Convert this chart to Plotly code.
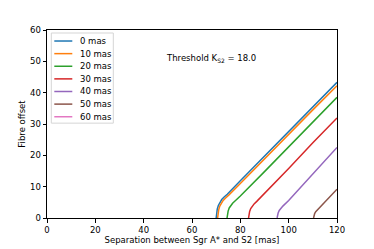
import plotly.graph_objects as go

labels = ["0 mas", "10 mas", "20 mas", "30 mas", "40 mas", "50 mas", "60 mas"]
colors = ["#1f77b4", "#ff7f0e", "#2ca02c", "#d62728", "#9467bd", "#8c564b", "#e377c2"]

x0 = [70.0, 70.15, 70.45, 70.9, 71.5, 72.3, 73.3, 74.6, 80, 90, 100, 110, 120]
y0 = [0.0, 1.4, 2.8, 4.0, 5.0, 5.9, 6.7, 7.6, 11.9, 19.8, 27.6, 35.5, 43.3]
x10 = [70.6, 70.75, 71.05, 71.5, 72.1, 72.9, 73.9, 75.2, 80, 90, 100, 110, 120]
y10 = [0.0, 1.3, 2.6, 3.8, 4.8, 5.6, 6.4, 7.3, 11.0, 18.9, 26.7, 34.5, 42.2]
x20 = [74.5, 74.65, 74.95, 75.4, 76.0, 76.8, 77.9, 80, 90, 100, 110, 120]
y20 = [0.0, 1.1, 2.2, 3.2, 4.0, 4.7, 5.5, 7.0, 14.8, 22.7, 30.6, 38.5]
x30 = [83.4, 83.55, 83.85, 84.3, 84.9, 85.7, 86.8, 90, 100, 110, 120]
y30 = [0.0, 1.1, 2.1, 3.0, 3.8, 4.5, 5.3, 7.8, 15.8, 24.0, 31.9]
x40 = [95.2, 95.35, 95.65, 96.1, 96.7, 97.6, 100, 110, 120]
y40 = [0.0, 0.8, 1.6, 2.4, 3.1, 3.8, 5.6, 14.0, 22.5]
x50 = [110.3, 110.45, 110.75, 111.2, 111.9, 113, 115, 120]
y50 = [0.0, 0.7, 1.4, 2.0, 2.6, 3.4, 5.0, 9.2]
x60 = []
y60 = []

xs = [x0, x10, x20, x30, x40, x50, x60]
ys = [y0, y10, y20, y30, y40, y50, y60]

x_ticks = [0, 20, 40, 60, 80, 100, 120]
y_ticks = [0, 10, 20, 30, 40, 50, 60]

FONT = "DejaVu Sans"

fig = go.Figure()
for lab, c, xx, yy in zip(labels, colors, xs, ys):
    fig.add_trace(go.Scatter(x=xx, y=yy, mode="lines", name=lab,
                             line=dict(color=c, width=1.5),
                             showlegend=False))

axis_common = dict(showline=True, linecolor="black", linewidth=1, mirror=True,
                   ticks="outside", ticklen=3.5, tickwidth=0.8, tickcolor="black",
                   showgrid=False, zeroline=False, automargin=False,
                   tickfont=dict(family=FONT, size=8.5, color="black"))

# the page body adds an 8px offset, so the figure is 8px smaller and margins shifted
fig.update_layout(
    width=366, height=241,
    margin=dict(l=38.7, r=37.3, t=22, b=31.3),
    paper_bgcolor="white", plot_bgcolor="white",
    font=dict(family=FONT, size=8.5, color="black"),
    xaxis=dict(range=[0, 120], tickvals=x_ticks,
               title=dict(text="Separation between Sgr A* and S2 [mas]", standoff=2,
                          font=dict(family=FONT, size=8.5)),
               **axis_common),
    yaxis=dict(range=[0, 60], tickvals=y_ticks,
               title=dict(text="Fibre offset", standoff=2,
                          font=dict(family=FONT, size=8.5)),
               **axis_common),
    showlegend=False,
)

# manual legend (matplotlib-style compact layout), positions in window pixels
W, H = 290.0, 187.7
def px2x(p):
    return (p - 46.7) / W
def py2y(p):
    return (217.7 - p) / H

fig.add_shape(type="rect", xref="paper", yref="paper",
              x0=px2x(51), x1=px2x(113), y0=py2y(123), y1=py2y(33),
              line=dict(color="#d5d5d5", width=1), fillcolor="rgba(255,255,255,0.8)",
              layer="above")
for i, (lab, c) in enumerate(zip(labels, colors)):
    yy = py2y(41 + 12.6 * i)
    fig.add_shape(type="line", xref="paper", yref="paper",
                  x0=px2x(54), x1=px2x(72), y0=yy, y1=yy,
                  line=dict(color=c, width=1.5), layer="above")
    fig.add_annotation(x=px2x(78), y=yy, xref="paper", yref="paper",
                       text=lab, showarrow=False, xanchor="left", yanchor="middle",
                       font=dict(family=FONT, size=8.5, color="black"))

fig.add_annotation(x=px2x(211), y=py2y(58), xref="paper", yref="paper",
                   text="Threshold K<sub>S2</sub> = 18.0", showarrow=False,
                   font=dict(family=FONT, size=8.5, color="black"),
                   xanchor="center", yanchor="middle")

fig.write_html("out.html")
